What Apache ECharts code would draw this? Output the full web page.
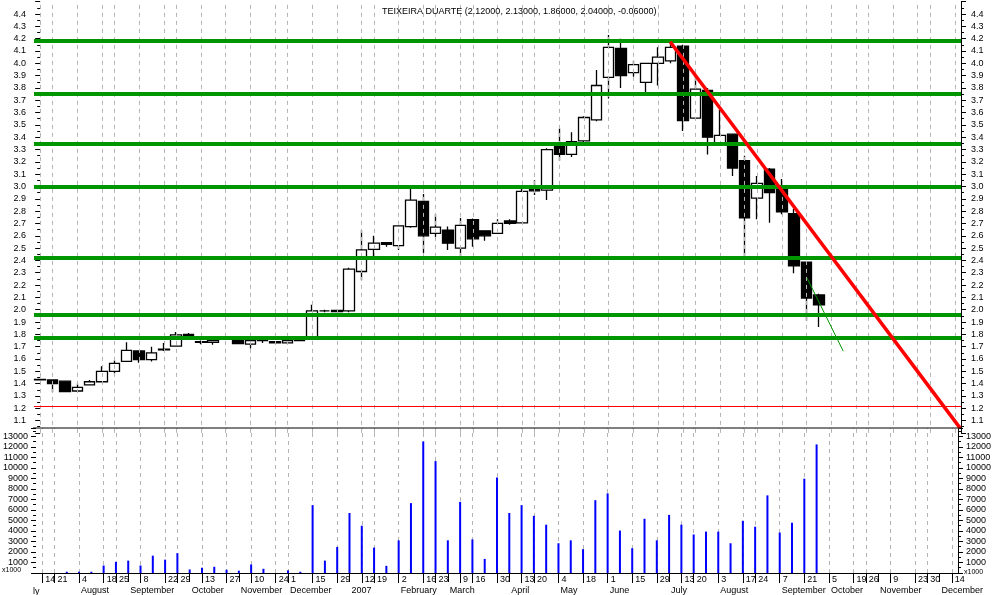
<!DOCTYPE html>
<html><head><meta charset="utf-8">
<script src="https://cdn.jsdelivr.net/npm/echarts@6/dist/echarts.min.js"></script>
<style>html,body{margin:0;padding:0;background:#fff}#c{width:994px;height:595px}</style>
</head><body><div id="c"></div>
<script>
const titleText = 'TEIXEIRA DUARTE (2.12000, 2.13000, 1.86000, 2.04000, -0.06000)';
const weeks = ['2006-07-14','2006-07-21','2006-07-28','2006-08-04','2006-08-11','2006-08-18','2006-08-25','2006-09-01','2006-09-08','2006-09-15','2006-09-22','2006-09-29','2006-10-06','2006-10-13','2006-10-20','2006-10-27','2006-11-03','2006-11-10','2006-11-17','2006-11-24','2006-12-01','2006-12-08','2006-12-15','2006-12-22','2006-12-29','2007-01-05','2007-01-12','2007-01-19','2007-01-26','2007-02-02','2007-02-09','2007-02-16','2007-02-23','2007-03-02','2007-03-09','2007-03-16','2007-03-23','2007-03-30','2007-04-06','2007-04-13','2007-04-20','2007-04-27','2007-05-04','2007-05-11','2007-05-18','2007-05-25','2007-06-01','2007-06-08','2007-06-15','2007-06-22','2007-06-29','2007-07-06','2007-07-13','2007-07-20','2007-07-27','2007-08-03','2007-08-10','2007-08-17','2007-08-24','2007-08-31','2007-09-07','2007-09-14','2007-09-21','2007-09-28','2007-10-05','2007-10-12','2007-10-19','2007-10-26','2007-11-02','2007-11-09','2007-11-16','2007-11-23','2007-11-30','2007-12-07','2007-12-14'];
const opens  = [1.435,1.43,1.42,1.34,1.39,1.415,1.50,1.58,1.665,1.595,1.675,1.705,1.80,1.74,1.735,1.76,1.76,1.72,1.75,1.74,1.73,1.75,1.77,1.99,1.985,1.99,2.31,2.49,2.545,2.52,2.675,2.88,2.62,2.645,2.50,2.73,2.64,2.62,2.72,2.705,2.98,2.97,3.33,3.26,3.37,3.54,3.885,4.12,3.925,3.845,4.00,4.02,4.14,3.555,3.78,3.35,3.425,3.21,2.905,3.14,2.98,2.78,2.385,2.12];
const closes = [1.43,1.40,1.335,1.37,1.415,1.50,1.565,1.67,1.595,1.65,1.68,1.795,1.78,1.735,1.75,1.76,1.725,1.75,1.755,1.73,1.75,1.755,1.99,1.99,1.995,2.33,2.485,2.54,2.53,2.68,2.89,2.60,2.67,2.54,2.685,2.575,2.60,2.70,2.70,2.96,2.965,3.30,3.26,3.365,3.56,3.82,4.13,3.90,3.99,4.00,4.05,4.13,3.535,3.79,3.40,3.415,3.15,2.745,3.025,2.95,2.795,2.355,2.095,2.04];
const lows   = [1.425,1.33,1.33,1.33,1.39,1.41,1.48,1.575,1.57,1.58,1.665,1.70,1.755,1.72,1.715,1.755,1.725,1.685,1.73,1.725,1.73,1.745,1.76,1.98,1.98,1.98,2.24,2.435,2.51,2.485,2.665,2.46,2.59,2.485,2.435,2.51,2.56,2.62,2.69,2.70,2.93,2.89,3.21,3.24,3.36,3.53,3.715,3.80,3.89,3.755,3.82,4.00,3.45,3.55,3.26,3.34,3.085,2.435,2.735,2.705,2.775,2.295,1.91,1.86];
const highs  = [1.44,1.43,1.42,1.40,1.43,1.54,1.59,1.735,1.665,1.70,1.73,1.82,1.81,1.75,1.755,1.765,1.765,1.76,1.77,1.745,1.76,1.76,2.04,2.00,2.00,2.34,2.645,2.60,2.55,2.68,2.985,2.94,2.775,2.675,2.745,2.74,2.64,2.735,2.735,2.98,3.05,3.31,3.47,3.44,3.57,3.945,4.23,4.20,4.02,4.00,4.13,4.16,4.15,3.89,3.80,3.62,3.43,3.25,3.085,3.15,3.06,2.82,2.385,2.13];
const volumes = [0,0,120,120,120,710,1060,1180,710,1650,1270,1890,340,500,590,310,220,810,400,0,250,120,6460,1180,2480,5710,4500,2420,680,3110,6650,12520,10650,3110,6770,3200,1340,9100,5710,6460,5440,4600,2830,3110,2270,6930,7580,4040,2360,5160,3110,5530,4600,3670,3940,3940,2830,4970,4410,7390,3850,4780,8980,12240];
const greenLevels = [4.18,3.75,3.35,3.0,2.425,1.96,1.77];
const redLevel = 1.22;
const redTrend = [[50.97,4.175],[74.43,1.039]];
const greenTrend = [[62.05,2.256],[64.97,1.664]];
const dayTickDates = ['2006-07-14','2006-07-21','2006-08-04','2006-08-18','2006-08-25','2006-09-08','2006-09-22','2006-09-29','2006-10-13','2006-10-27','2006-11-10','2006-11-24','2006-12-01','2006-12-15','2006-12-29','2007-01-12','2007-01-19','2007-02-02','2007-02-16','2007-02-23','2007-03-09','2007-03-16','2007-03-30','2007-04-13','2007-04-20','2007-05-04','2007-05-18','2007-06-01','2007-06-15','2007-06-29','2007-07-13','2007-07-20','2007-08-03','2007-08-17','2007-08-24','2007-09-07','2007-09-21','2007-10-05','2007-10-19','2007-10-26','2007-11-09','2007-11-23','2007-11-30','2007-12-14'];
const monthTickDates = ['2006-08-04','2006-09-01','2006-10-06','2006-11-03','2006-12-01','2007-01-05','2007-02-02','2007-03-02','2007-04-06','2007-05-04','2007-06-01','2007-07-06','2007-08-03','2007-09-07','2007-10-05','2007-11-02','2007-12-07'];
const monthTickNames = ['August','September','October','November','December','2007','February','March','April','May','June','July','August','September','October','November','December'];
const priceTicks = {min:1.0, max:4.5, step:0.1};
const volTicks = {min:0, max:13800, step:1000};

const FONT = 'Liberation Sans';
const daySet = new Set(dayTickDates.map(d => weeks.indexOf(d)));
const monthIdx = monthTickDates.map(d => weeks.indexOf(d));
const monthSet = new Set(monthIdx);

const candleData = opens.map((o,i) => [o, closes[i], lows[i], highs[i]]);

function priceAxis(pos) {
  return {
    type:'value', gridIndex:0, position:pos, min:priceTicks.min, max:priceTicks.max, interval:priceTicks.step,
    axisLine:{show: pos==='right', lineStyle:{color:'#000', width:1}},
    axisTick:{show:true, length:5, lineStyle:{color:'#000'}},
    minorTick:{show:true, splitNumber:2, length:3, lineStyle:{color:'#000'}},
    splitLine:{show:false}, minorSplitLine:{show:false},
    axisLabel:{color:'#000', fontSize:9, fontFamily:FONT, margin: pos==='right'?10:8,
      showMinLabel:false, showMaxLabel:false, formatter: v => v.toFixed(1)}
  };
}
function volAxis(pos) {
  return {
    type:'value', gridIndex:1, position:pos, min:volTicks.min, max:volTicks.max, interval:volTicks.step,
    axisLine:{show: pos==='right', lineStyle:{color:'#000', width:1}},
    axisTick:{show:true, length:5, lineStyle:{color:'#000'}},
    minorTick:{show:true, splitNumber:2, length:3, lineStyle:{color:'#000'}},
    splitLine:{show:false},
    axisLabel:{color:'#000', fontSize:9, fontFamily:FONT, margin:8,
      showMinLabel:false, showMaxLabel:false, formatter: v => String(v)}
  };
}
const dashed = {color:'#b4b4b4', width:1, type:[4,4]};
const vLines = dayTickDates.map(d => ({xAxis: d}));

const chart = echarts.init(document.getElementById('c'), null, {renderer:'canvas'});
chart.setOption({
  animation:false,
  backgroundColor:'#fff',
  title:{text:titleText, left:377, top:2, textStyle:{fontSize:9, fontWeight:'normal', color:'#000', fontFamily:FONT}},
  grid:[
    {left:34, width:927, top:1.7, height:431.2},
    {left:34, width:927, top:428, height:147}
  ],
  xAxis:[
    {type:'category', gridIndex:0, data:weeks, show:false, boundaryGap:true},
    {type:'value', gridIndex:0, min:-0.5, max:74.5, show:false},
    {type:'category', gridIndex:1, data:weeks, boundaryGap:true, position:'bottom',
      axisLine:{show:true, lineStyle:{color:'#000', width:1}},
      axisTick:{show:true, alignWithLabel:true, length:10, interval:(i)=>daySet.has(i), lineStyle:{color:'#000'}},
      axisLabel:{show:true, interval:(i)=>daySet.has(i), align:'left', padding:[0,0,0,3], margin:2,
        color:'#000', fontSize:9, fontFamily:FONT, formatter: v => String(parseInt(v.slice(8),10))},
      splitLine:{show:false}},
    {type:'category', gridIndex:1, data:weeks, boundaryGap:true, position:'bottom', offset:11,
      axisLine:{show:true, lineStyle:{color:'#000', width:1}},
      axisTick:{show:true, alignWithLabel:true, length:9, interval:(i)=>monthSet.has(i), lineStyle:{color:'#000'}},
      axisLabel:{show:true, interval:(i)=>monthSet.has(i), align:'left', padding:[0,0,0,2], margin:2,
        color:'#000', fontSize:9, fontFamily:FONT,
        formatter: (v) => { const k = monthTickDates.indexOf(v); return k>=0 ? monthTickNames[k] : ''; }},
      splitLine:{show:false}}
  ],
  yAxis:[priceAxis('left'), priceAxis('right'), volAxis('left'), volAxis('right')],
  graphic:[
    {type:'line', shape:{x1:33, y1:428, x2:961, y2:428}, style:{stroke:'#000', lineWidth:1}, z:10},
    {type:'text', left:33, top:587, style:{text:'ly', fontSize:9, fontFamily:FONT, fill:'#000'}},
    {type:'text', left:2, top:567, style:{text:'x1000', fontSize:7, fontFamily:FONT, fill:'#000'}},
    {type:'text', left:964, top:569, style:{text:'x1000', fontSize:7, fontFamily:FONT, fill:'#000'}}
  ],
  series:[
    {type:'line', xAxisIndex:0, yAxisIndex:0, data:[], z:1, silent:true,
      markLine:{silent:true, symbol:['none','none'], label:{show:false}, lineStyle:dashed, data:vLines, animation:false}},
    {type:'candlestick', xAxisIndex:0, yAxisIndex:0, data:candleData, barWidth:11, z:3,
      itemStyle:{color:'#ffffff', color0:'#000000', borderColor:'#000000', borderColor0:'#000000', borderColorDoji:'#000000', borderWidth:1.3},
      markLine:{silent:true, symbol:['none','none'], label:{show:false}, animation:false,
        data: greenLevels.map(v => ({yAxis:v, lineStyle:{color:'#009600', width:4, type:'solid'}}))
          .concat([{yAxis:redLevel, lineStyle:{color:'#ff0000', width:1, type:'solid'}}])}},
    {type:'line', xAxisIndex:1, yAxisIndex:0, data:redTrend, symbol:'none', z:5,
      lineStyle:{color:'#ff0000', width:3.5}},
    {type:'line', xAxisIndex:1, yAxisIndex:0, data:greenTrend, symbol:'none', z:5,
      lineStyle:{color:'#009600', width:1}},
    {type:'bar', xAxisIndex:2, yAxisIndex:2, data:volumes, barWidth:2, z:3,
      itemStyle:{color:'#0000ff'},
      markLine:{silent:true, symbol:['none','none'], label:{show:false}, lineStyle:dashed, data:vLines, animation:false, z:1}}
  ]
});
</script></body></html>
